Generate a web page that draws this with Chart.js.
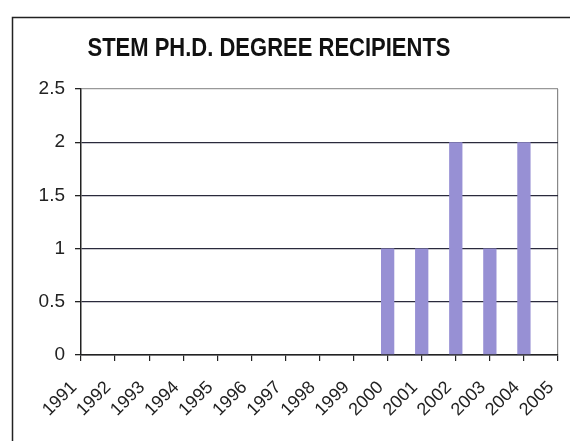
<!DOCTYPE html>
<html>
<head>
<meta charset="utf-8">
<script src="https://cdn.jsdelivr.net/npm/chart.js@4/dist/chart.umd.min.js"></script>
<style>
  html, body { margin: 0; padding: 0; background: #fff; }
  #wrap { width: 570px; height: 441px; }
</style>
</head>
<body>
<div id="wrap"><canvas id="graficoStem"></canvas></div>
<script>
const titulo = 'STEM PH.D. DEGREE RECIPIENTS';
const anos = ['1991', '1992', '1993', '1994', '1995', '1996', '1997', '1998',
  '1999', '2000', '2001', '2002', '2003', '2004', '2005'];
const receptores = [0, 0, 0, 0, 0, 0, 0, 0, 0, 1, 1, 2, 1, 2, 0];
const yMin = 0;
const yMax = 2.5;
const yPaso = 0.5;

// marco exterior + titulo (centrado como en el original)
const marcoYTitulo = {
  id: 'marcoYTitulo',
  beforeDraw(chart) {
    const ctx = chart.ctx;
    ctx.save();
    ctx.fillStyle = '#fff';
    ctx.fillRect(0, 0, chart.width, chart.height);
    ctx.strokeStyle = '#222';
    ctx.lineWidth = 1.5;
    ctx.strokeRect(12.5, 17.5, 700, 600);
    ctx.restore();
  },
  afterDraw(chart) {
    const ctx = chart.ctx;
    ctx.save();
    ctx.font = 'bold 22px "Liberation Sans", Arial, sans-serif';
    ctx.fillStyle = '#111';
    ctx.textAlign = 'center';
    ctx.textBaseline = 'middle';
    // un poco estirado en vertical, como el escaneo
    ctx.translate(269, 49);
    ctx.scale(1, 1.15);
    ctx.fillText(titulo, 0, 0);
    ctx.restore();
  }
};

const ctx = document.getElementById('graficoStem').getContext('2d');
new Chart(ctx, {
  type: 'bar',
  data: {
    labels: anos,
    datasets: [{
      label: titulo,
      data: receptores,
      backgroundColor: '#9790d4',
      borderWidth: 0,
      barPercentage: 0.39,
      categoryPercentage: 1
    }]
  },
  options: {
    responsive: true,
    maintainAspectRatio: false,
    animation: false,
    layout: { padding: { top: 89, right: 12, bottom: 0, left: 0 } },
    plugins: {
      legend: { display: false },
      title: { display: false },
      tooltip: { enabled: false }
    },
    scales: {
      x: {
        offset: false,
        afterFit: s => {
          s.height = 86;
          s.paddingLeft = 0;
          s.paddingRight = 0;
        },
        grid: {
          offset: false,
          drawOnChartArea: true,
          color: c => c.index === anos.length - 1 ? '#888' : 'rgba(0,0,0,0)',
          tickColor: '#222',
          tickLength: 6,
          lineWidth: 1.2
        },
        border: { color: '#222', width: 1.5 },
        ticks: {
          autoSkip: false,
          minRotation: 45,
          maxRotation: 45,
          padding: 16,
          labelOffset: -7,
          color: '#222',
          font: { family: '"Liberation Sans", Arial, sans-serif', size: 18 }
        }
      },
      y: {
        min: yMin,
        max: yMax,
        afterFit: s => { s.width = 81; },
        grid: {
          color: c => c.tick && c.tick.value === yMax ? '#999' : '#2a2a3c',
          tickColor: '#222',
          tickLength: 6,
          lineWidth: 1.3
        },
        border: { color: '#222', width: 1.5 },
        ticks: {
          stepSize: yPaso,
          padding: 10,
          color: '#222',
          callback: v => String(v),
          font: { family: '"Liberation Sans", Arial, sans-serif', size: 19 }
        }
      }
    }
  },
  plugins: [marcoYTitulo]
});
</script>
</body>
</html>
